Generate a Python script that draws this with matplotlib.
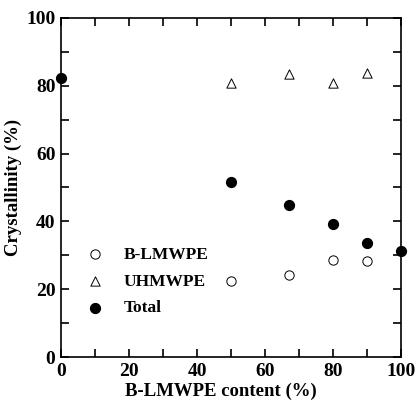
import numpy as np
import matplotlib
matplotlib.use("Agg")
import matplotlib.pyplot as plt

# ---------------- Data ------------------------
x_blm = [50, 67, 80, 90]
y_blm = [22.3, 24.3, 28.7, 28.3]

x_uhm = [50, 67, 80, 90]
y_uhm = [80.8, 83.5, 80.8, 83.8]

x_tot = [0, 50, 67, 80, 90, 100]
y_tot = [82.2, 51.6, 44.7, 39.1, 33.7, 31.2]

xticks = [0, 20, 40, 60, 80, 100]
yticks = [0, 20, 40, 60, 80, 100]

plt.rcParams["font.family"] = ["Liberation Serif", "DejaVu Serif"]
plt.rcParams["font.weight"] = "bold"

fig = plt.figure(figsize=(4.16, 4.05), dpi=100)
ax = fig.add_axes([0.1466, 0.1185, 0.8174, 0.8371])

ax.scatter(x_blm, y_blm, marker="o", s=45, facecolors="white", edgecolors="black",
           linewidths=0.7, label="B-LMWPE", clip_on=False, zorder=3)
ax.scatter(x_uhm, y_uhm, marker="^", s=45, facecolors="white", edgecolors="black",
           linewidths=0.7, label="UHMWPE", clip_on=False, zorder=3)
ax.scatter(x_tot, y_tot, marker="o", s=50, color="black",
           label="Total", clip_on=False, zorder=3)

ax.set_xlim(0, 100)
ax.set_ylim(0, 100)
ax.set_xticks(xticks)
ax.set_yticks(yticks)
ax.set_xticks(np.arange(10, 100, 20), minor=True)
ax.set_yticks(np.arange(10, 100, 20), minor=True)
ax.tick_params(which="both", direction="in", top=True, right=True,
               length=6, width=1.2, labelsize=14, pad=4)
for s in ax.spines.values():
    s.set_linewidth(1.2)
for lab in ax.get_xticklabels() + ax.get_yticklabels():
    lab.set_fontweight("bold")

ax.set_xlabel("B-LMWPE content (%)", fontsize=13.5, fontweight="bold", labelpad=1)
ax.xaxis.set_label_coords(0.47, -0.075)
ax.set_ylabel("Crystallinity (%)", fontsize=13.5, fontweight="bold", labelpad=3)

ax.legend(loc="lower left", bbox_to_anchor=(0.03, 0.1), frameon=False,
          fontsize=12.5, handletextpad=0.6, labelspacing=0.6, borderaxespad=0)

fig.savefig("out.png", dpi=100, facecolor="white")
